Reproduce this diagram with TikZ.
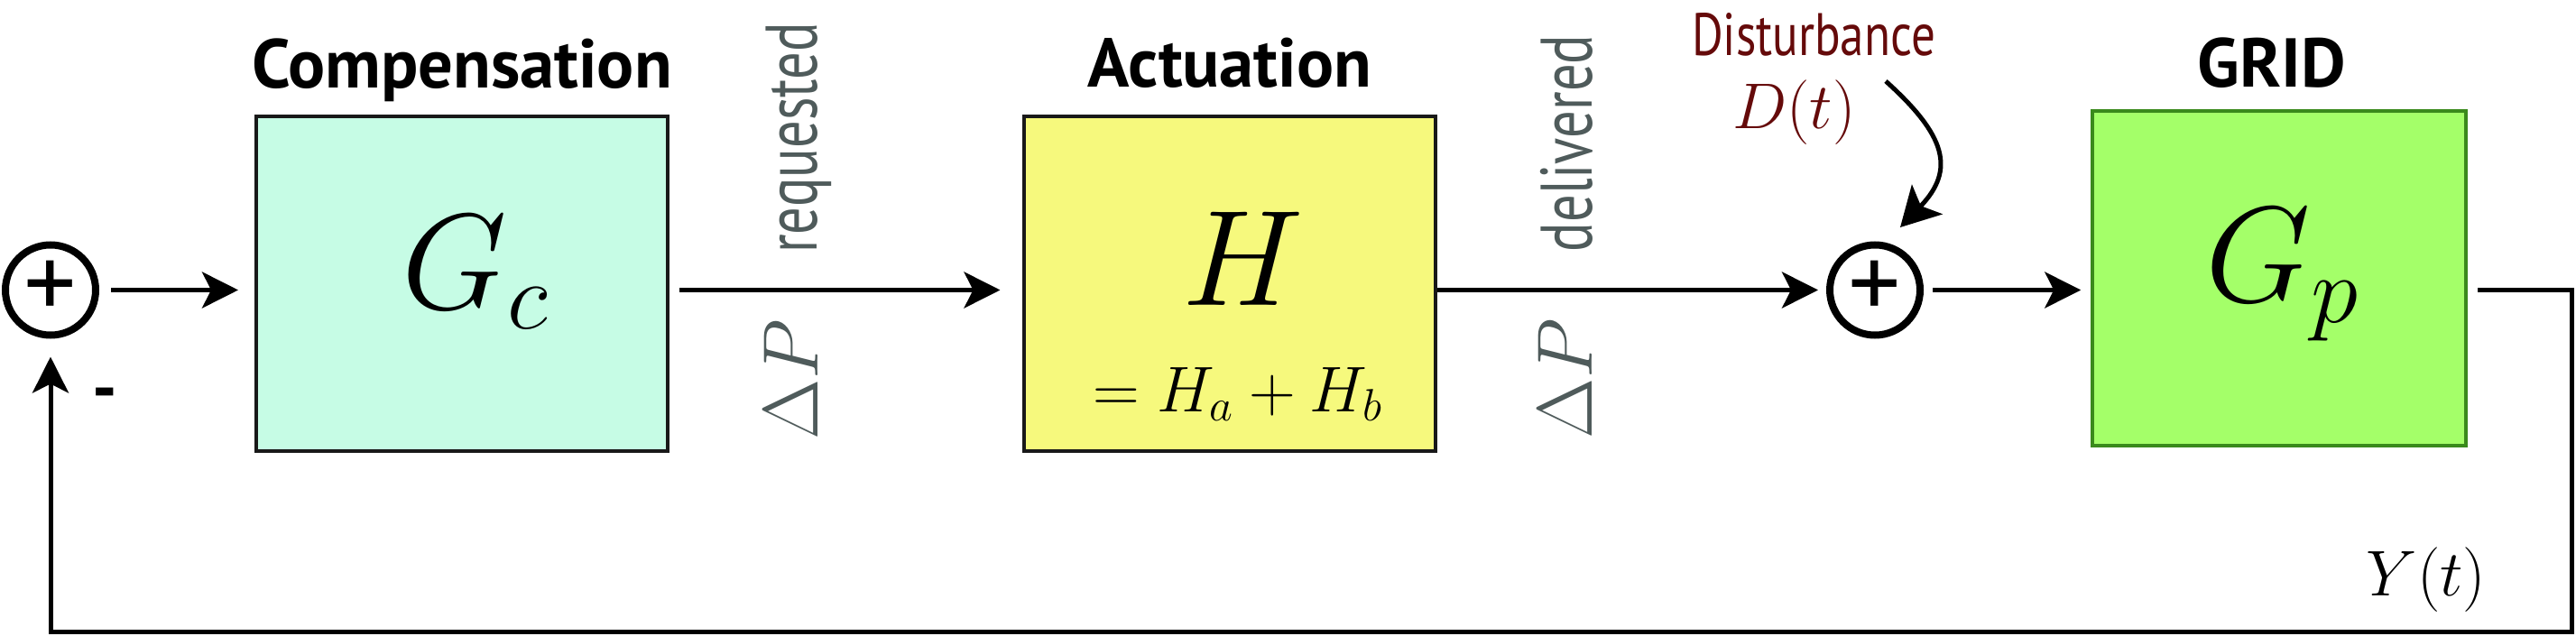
\RequirePackage{fix-cm}
\documentclass[tikz,border=0pt]{standalone}
\usepackage{fontspec}
\newfontfamily\boxfont{PT Sans}
\newfontfamily\narrowfont[FakeStretch=0.75]{PT Sans}
\newfontfamily\distfont[FakeStretch=0.8]{PT Sans}
\usetikzlibrary{arrows.meta}
\definecolor{mint}{HTML}{C6FCE5}
\definecolor{lemon}{HTML}{F6F97D}
\definecolor{lime}{HTML}{A4FF69}
\definecolor{limeborder}{HTML}{3A8A1C}
\definecolor{flowgray}{HTML}{4F5B5B}
\definecolor{distred}{HTML}{650A0A}

\begin{document}
\begin{tikzpicture}[>={Stealth[length=0.4cm,width=0.4cm,inset=0.1cm]}, line width=0.05cm,
  block/.style={draw=black!90, line width=0.04cm, minimum width=4.56cm, minimum height=3.71cm, inner sep=0},
  sum/.style={circle, draw, line width=0.08cm, minimum size=1cm, inner sep=0, font=\boxfont\fontsize{33}{33}\selectfont},
  title/.style={font=\boxfont\bfseries\fontsize{21.8}{24}\selectfont, anchor=base},
  big/.style={font=\fontsize{43}{50}\selectfont, anchor=base},
  small/.style={font=\fontsize{20.4}{24}\selectfont, anchor=base},
  flow/.style={font=\narrowfont\fontsize{23}{26}\selectfont, text=flowgray, rotate=90, anchor=base},
  flowmath/.style={font=\fontsize{24.7}{28}\selectfont, text=flowgray, rotate=90, anchor=base}]

\useasboundingbox (0,0) rectangle (28.55,7.04);

\node[sum] (S1) at (0.56,3.825) {+};
\node[block, fill=mint, node distance=4.56cm, right of=S1, yshift=0.07cm] (Gc) {};
\node[block, fill=lemon, node distance=8.505cm, right of=Gc] (H) {};
\node[sum, node distance=7.155cm, right of=H, yshift=-0.07cm] (S2) {+};
\node[block, fill=lime, draw=limeborder, minimum width=4.145cm, node distance=4.48cm, right of=S2, yshift=0.13cm] (Gp) {};

\node[title] (tGc) at (5.12,6.06) {Compensation};
\node[title] (tH) at (13.63,6.07) {Actuation};
\node[title] (tGp) at (25.18,6.07) {GRID};

\node[big] (mGc) at (5.27,3.62) {$G_c$};
\node[big] (mH) at (13.78,3.65) {$H$};
\node[small] (mHab) at (13.72,2.48) {$=H_a+H_b$};
\node[big] (mGp) at (25.30,3.695) {$G_p$};

\node[flow] (req) at (9.05,5.51) {requested};
\node[flowmath] (dP1) at (9.06,2.83) {$\Delta P$};
\node[flow] (del) at (17.64,5.45) {delivered};
\node[flowmath] (dP2) at (17.64,2.84) {$\Delta P$};

\node[anchor=base, text=distred, font=\distfont\fontsize{18.9}{22}\selectfont] (dlab) at (20.10,6.423) {Disturbance};
\node[small, text=distred] (Dt) at (19.885,5.61) {$D(t)$};
\node[small] (Yt) at (26.89,0.44) {$Y(t)$};
\node[title] (minus) at (1.16,2.48) {-};

\coordinate (dstart) at (20.90,6.14);
\coordinate (dtip) at (21.06,4.52);
\coordinate (fb) at (28.50,0.035);

\path[->]
      (S1) edge [shorten <=0.13cm, shorten >=0.18cm] (S1 -| Gc.west)
      (Gc.east |- S1) edge [shorten <=0.11cm, shorten >=0.24cm] (S1 -| H.west)
      (H.east |- S1) edge [shorten >=0.09cm] (S2)
      (S2) edge [shorten <=0.10cm, shorten >=0.105cm] (S2 -| Gp.west)
      (dstart) edge [out=-42, in=46, looseness=1.4, -{Stealth[length=0.43cm,width=0.47cm,inset=0.1cm]}] (dtip);
\draw[->, shorten <=0.11cm, shorten >=0.20cm] (Gp.east |- S2) -| (fb) -| (S1);
\end{tikzpicture}
\end{document}
